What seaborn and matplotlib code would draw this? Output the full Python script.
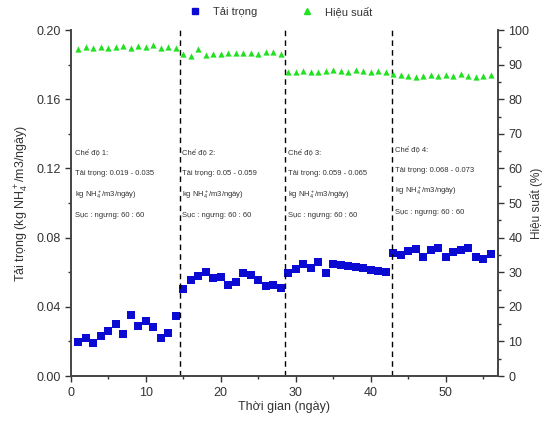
import matplotlib
matplotlib.use("Agg")
import matplotlib.pyplot as plt
from matplotlib.lines import Line2D
from matplotlib.ticker import MultipleLocator
import seaborn as sns
import pandas as pd

# --- DATA ---
days = list(range(1, 57))
load = [0.0198, 0.0218, 0.0193, 0.0231, 0.0260, 0.0299, 0.0243, 0.0353, 0.0291, 0.0320, 0.0285, 0.0221, 0.0250, 0.0347,
        0.0501, 0.0555, 0.0580, 0.0599, 0.0565, 0.0571, 0.0526, 0.0545, 0.0594, 0.0584, 0.0555, 0.0520, 0.0526, 0.0507,
        0.0594, 0.0618, 0.0646, 0.0623, 0.0657, 0.0594, 0.0646, 0.0642, 0.0638, 0.0632, 0.0625, 0.0613, 0.0608, 0.0603,
        0.0709, 0.0699, 0.0724, 0.0732, 0.0690, 0.0728, 0.0738, 0.0690, 0.0718, 0.0728, 0.0738, 0.0686, 0.0675, 0.0705]
efficiency = [94.6, 95.0, 94.7, 95.2, 94.8, 95.0, 95.5, 94.9, 95.3, 95.1, 95.6, 94.8, 95.2, 94.9,
              93.0, 92.6, 94.5, 92.8, 93.0, 93.2, 93.5, 93.4, 93.3, 93.5, 93.2, 93.6, 93.8, 93.0,
              88.0, 87.8, 88.2, 87.9, 88.0, 88.3, 88.6, 88.2, 88.0, 88.4, 88.1, 87.9, 88.2, 87.8,
              87.2, 87.0, 86.8, 86.5, 86.8, 86.9, 86.6, 87.0, 86.8, 87.3, 86.7, 86.4, 86.6, 86.9]
phase_breaks = [14.5, 28.6, 42.9]
phase_x = [0.5, 14.8, 29.0, 43.2]
phase_y = [0.129, 0.129, 0.129, 0.131]
phase_text = [
    ["Chế độ 1:", "Tải trọng: 0.019 - 0.035", "kg NH$_4^+$/m3/ngày)", "Sục : ngưng: 60 : 60"],
    ["Chế độ 2:", "Tải trọng: 0.05 - 0.059", "kg NH$_4^+$/m3/ngày)", "Sục : ngưng: 60 : 60"],
    ["Chế độ 3:", "Tải trọng: 0.059 - 0.065", "kg NH$_4^+$/m3/ngày)", "Sục : ngưng: 60 : 60"],
    ["Chế độ 4:", "Tải trọng: 0.068 - 0.073", "kg NH$_4^+$/m3/ngày)", "Sục : ngưng: 60 : 60"],
]

df = pd.DataFrame({"day": days, "load": load, "eff": efficiency})

BLUE = "#0a0ad2"
GREEN = "#22e022"

sns.set_style("ticks")
plt.rcParams["font.family"] = ["Liberation Sans", "DejaVu Sans"]
plt.rcParams["mathtext.fontset"] = "custom"
plt.rcParams["mathtext.rm"] = "Liberation Sans"
plt.rcParams["mathtext.it"] = "Liberation Sans"

fig = plt.figure(figsize=(5.45, 4.24), dpi=100)
ax = fig.add_axes([0.130, 0.113, 0.784, 0.816])
ax2 = ax.twinx()

sns.scatterplot(data=df, x="day", y="load", marker="s", s=28, color=BLUE, edgecolor=BLUE, linewidth=0, ax=ax)
sns.scatterplot(data=df, x="day", y="eff", marker="^", s=20, color=GREEN, edgecolor=GREEN, linewidth=0, ax=ax2)

for xb in phase_breaks:
    ax.axvline(xb, color="black", linestyle=(0, (4, 3)), linewidth=1.0)

for x0, y0, lines in zip(phase_x, phase_y, phase_text):
    for i, line in enumerate(lines):
        ax.text(x0, y0 - i * 0.0121, line, fontsize=5.5, color="#333333", va="center", ha="left")

ax.set_xlim(0, 57)
ax.set_ylim(0, 0.20)
ax2.set_ylim(0, 100)
ax.xaxis.set_major_locator(MultipleLocator(10))
ax.xaxis.set_minor_locator(MultipleLocator(5))
ax.yaxis.set_major_locator(MultipleLocator(0.04))
ax.yaxis.set_minor_locator(MultipleLocator(0.02))
ax2.yaxis.set_major_locator(MultipleLocator(10))
ax2.yaxis.set_minor_locator(MultipleLocator(5))
ax.yaxis.set_major_formatter(matplotlib.ticker.FormatStrFormatter("%.2f"))

for a in (ax, ax2):
    a.tick_params(which="major", length=4, width=1, labelsize=9, colors="#333333")
    a.tick_params(which="minor", length=2.5, width=1, colors="#333333")
    for s in a.spines.values():
        s.set_linewidth(1.2)
        s.set_color("#444444")
    a.spines["top"].set_visible(False)

ax.set_xlabel("Thời gian (ngày)", fontsize=9, color="#333333", labelpad=2)
ax.set_ylabel("Tải trọng (kg NH$_4^+$/m3/ngày)", fontsize=9, color="#333333", labelpad=4)
ax2.set_ylabel("Hiệu suất (%)", fontsize=8.5, color="#333333", labelpad=0)

handles = [
    Line2D([], [], marker="s", color=BLUE, linestyle="none", markersize=4.5, label="Tải trọng"),
    Line2D([], [], marker="^", color=GREEN, linestyle="none", markersize=4.5, label="Hiệu suất"),
]
fig.legend(handles=handles, loc="center", bbox_to_anchor=(0.51, 0.972), ncol=2, frameon=False,
           fontsize=8, handletextpad=0.6, columnspacing=3.5, labelcolor="#333333")

fig.savefig("out.png", dpi=100)
